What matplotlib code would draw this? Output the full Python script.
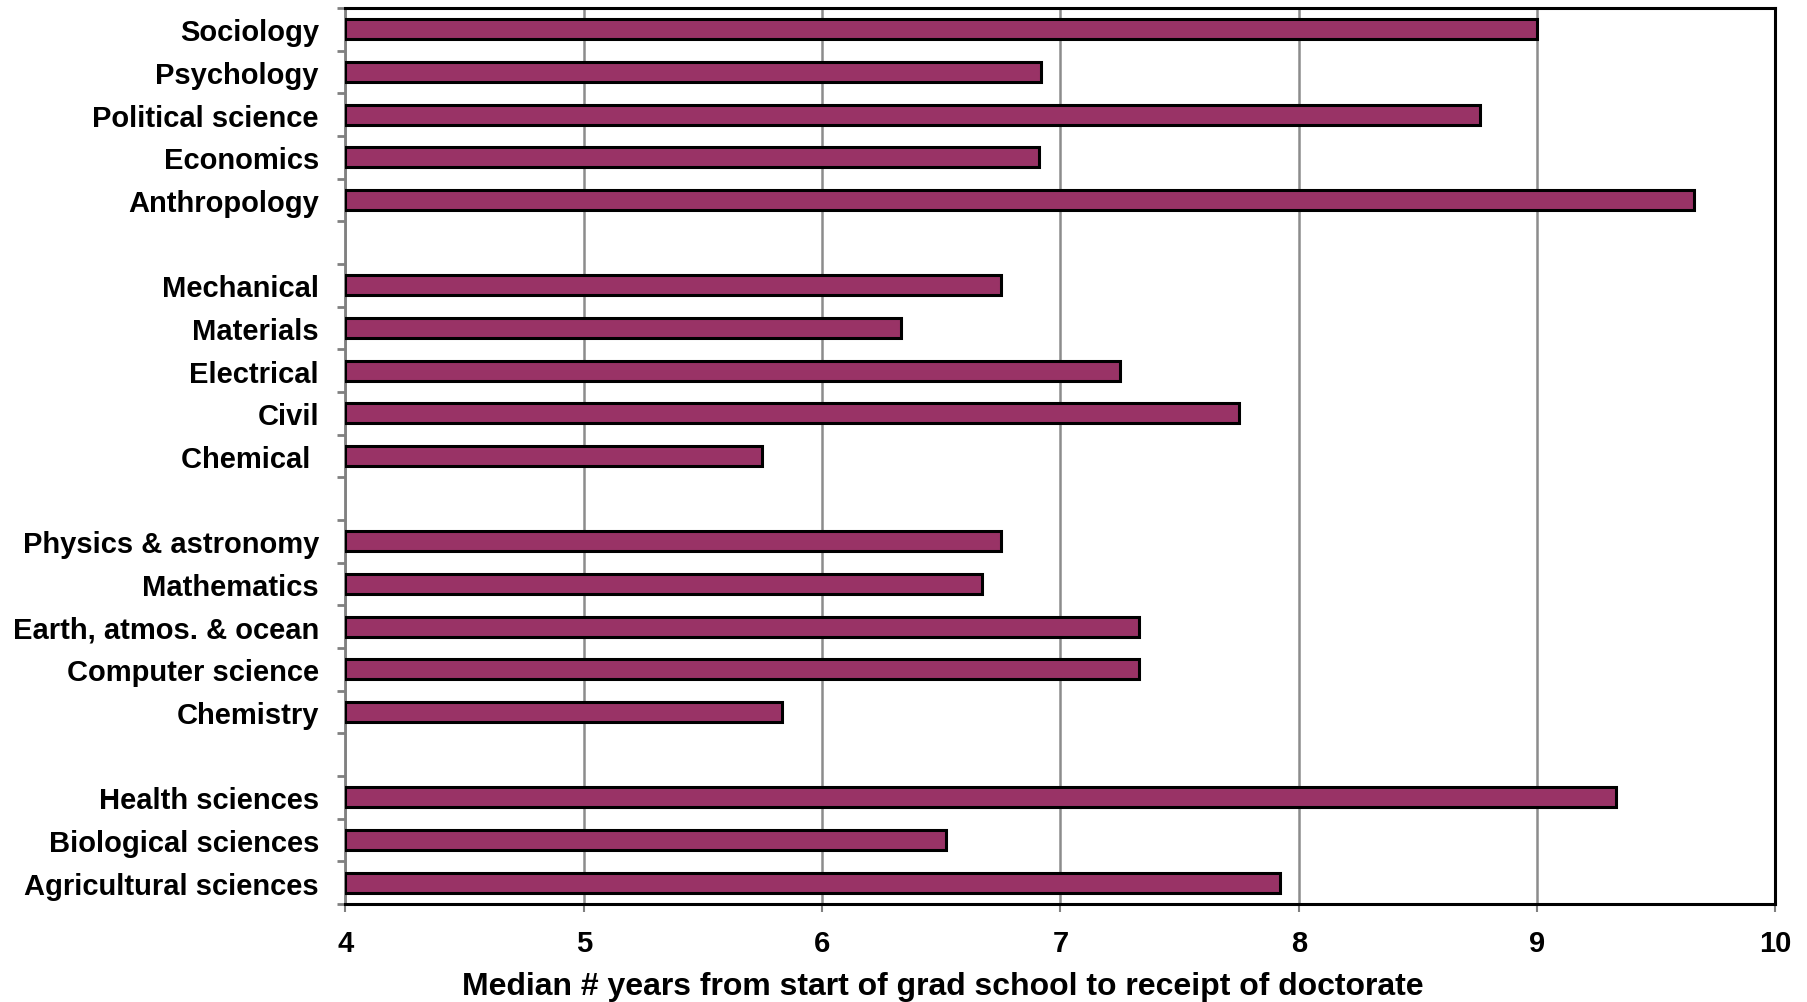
import matplotlib.pyplot as plt
import numpy as np

plt.rcParams['font.family'] = ['Liberation Sans', 'DejaVu Sans']
plt.rcParams['font.weight'] = 'bold'

# fields grouped, listed top to bottom as in the chart
social = ['Sociology', 'Psychology', 'Political science', 'Economics', 'Anthropology']
social_vals = [9.0, 6.92, 8.76, 6.91, 9.66]

engineering = ['Mechanical', 'Materials', 'Electrical', 'Civil', 'Chemical ']
engineering_vals = [6.75, 6.33, 7.25, 7.75, 5.75]

physical = ['Physics & astronomy', 'Mathematics', 'Earth, atmos. & ocean',
            'Computer science', 'Chemistry']
physical_vals = [6.75, 6.67, 7.33, 7.33, 5.83]

life = ['Health sciences', 'Biological sciences', 'Agricultural sciences']
life_vals = [9.33, 6.52, 7.92]

x_ticks = [4, 5, 6, 7, 8, 9, 10]

groups = [(social, social_vals), (engineering, engineering_vals),
          (physical, physical_vals), (life, life_vals)]

# build slot positions with one empty slot between groups
labels, values, pos = [], [], []
slot = 0
for names, vals in groups:
    for n, v in zip(names, vals):
        labels.append(n)
        values.append(v)
        pos.append(slot)
        slot += 1
    slot += 1
n_slots = slot - 1

fig = plt.figure(figsize=(18.08, 10.03), dpi=100)
ax = fig.add_axes([0.191, 0.0977, 0.791, 0.8933])

ax.barh(pos, np.array(values) - 4, left=4, height=0.47,
        color='#993366', edgecolor='black', linewidth=2.2, zorder=3)

ax.set_xlim(4, 10)
ax.set_ylim(n_slots - 0.5, -0.5)
ax.set_xticks(x_ticks)
ax.set_xticklabels([str(t) for t in x_ticks], fontsize=21, fontweight='bold')
ax.tick_params(axis='x', length=6, width=1.5, color='#808080', pad=12)

ax.set_yticks(pos)
ax.set_yticklabels(labels, fontsize=21, fontweight='bold')
ax.tick_params(axis='y', which='major', length=0, pad=19)
ax.set_yticks(np.arange(-0.5, n_slots, 1), minor=True)
ax.tick_params(axis='y', which='minor', length=6, width=2, color='#808080')

ax.grid(axis='x', color='#8c8c8c', linewidth=1.8, zorder=0)

for s in ['top', 'right', 'bottom']:
    ax.spines[s].set_color('black')
    ax.spines[s].set_linewidth(2.2)
ax.spines['left'].set_color('#808080')
ax.spines['left'].set_linewidth(2)

ax.set_xlabel('Median # years from start of grad school to receipt of doctorate',
              fontsize=23, fontweight='bold')
ax.xaxis.set_label_coords(0.418, -0.075)

fig.savefig('out.png', dpi=100)
